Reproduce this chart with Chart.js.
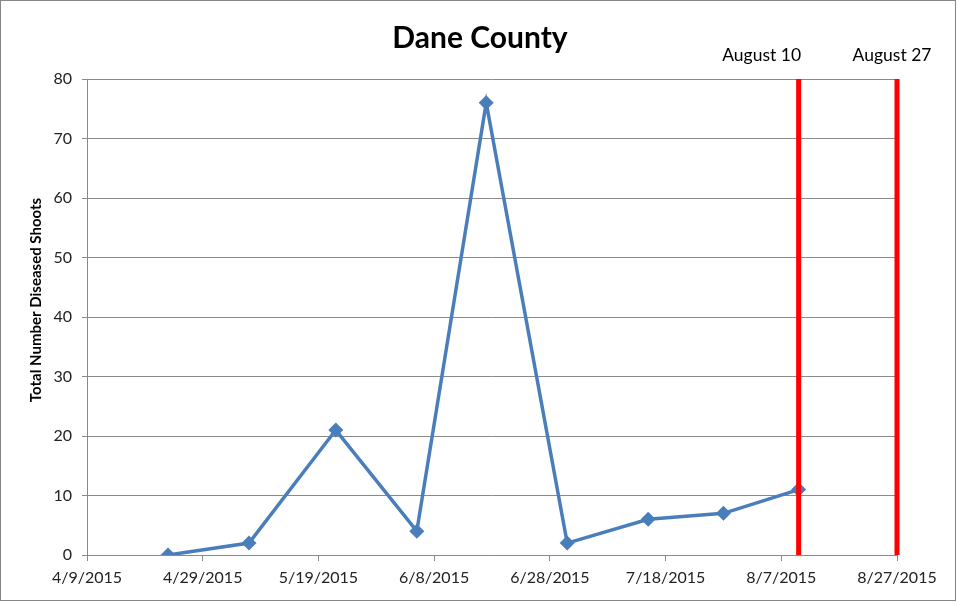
<!DOCTYPE html>
<html>
<head>
<meta charset="utf-8">
<title>Dane County</title>
<script src="https://cdn.jsdelivr.net/npm/chart.js@4.4.1/dist/chart.umd.min.js"></script>
<style>
  html, body { margin: 0; padding: 0; background: #fff; }
  #wrap { width: 957px; height: 603px; position: relative; }
</style>
</head>
<body>
<div id="wrap"><canvas id="daneChart" width="957" height="603"></canvas></div>

<script>
  // survey dates and counts
  const sampleDates = ["2015-04-23", "2015-05-07", "2015-05-22", "2015-06-05", "2015-06-17",
                       "2015-07-01", "2015-07-15", "2015-07-28", "2015-08-10"];
  const diseasedShoots = [0, 2, 21, 4, 76, 2, 6, 7, 11];

  // vertical reference lines
  const markerDates = ["2015-08-10", "2015-08-27"];
  const markerLabels = ["August 10", "August 27"];

  // axis range
  const axisStart = "2015-04-09";
  const axisEnd = "2015-08-27";
  const xStepDays = 20;
  const yMin = 0, yMax = 80, yStep = 10;

  const DAY = 86400000;
  const toUtc = (s) => { const [y, m, d] = s.split("-").map(Number); return Date.UTC(y, m - 1, d); };
  const dayOffset = (s) => Math.round((toUtc(s) - toUtc(axisStart)) / DAY);
  const dayLabel = (n) => {
    const d = new Date(toUtc(axisStart) + n * DAY);
    return (d.getUTCMonth() + 1) + "/" + d.getUTCDate() + "/" + d.getUTCFullYear();
  };

  const GRID = "#8a8a8a";
  const TEXT = "#222";
  const BLUE = "#4a7ebb";

  const markerSets = markerDates.map((d) => ({
    data: [{ x: dayOffset(d), y: yMin }, { x: dayOffset(d), y: yMax }],
    borderColor: "#ff0000",
    borderWidth: 5,
    pointRadius: 0,
    clip: false,
    order: 0,
  }));

  const textPlugin = {
    id: "textPlugin",
    afterDraw(chart) {
      const ctx = chart.ctx;
      const xs = chart.scales.x;
      ctx.save();
      // outer frame
      ctx.strokeStyle = "#868686";
      ctx.lineWidth = 1;
      ctx.strokeRect(0.5, 0.5, 955, 600);

      ctx.fillStyle = "#000";
      ctx.textAlign = "center";
      ctx.textBaseline = "middle";
      ctx.font = "bold 30px Lato";
      ctx.fillText("Dane County", 480, 38);

      ctx.font = "17.5px Lato";
      const shifts = [-37, -5];
      markerDates.forEach((d, i) => {
        ctx.fillText(markerLabels[i], xs.getPixelForValue(dayOffset(d)) + shifts[i], 55);
      });

      ctx.translate(36, 300);
      ctx.rotate(-Math.PI / 2);
      ctx.font = "bold 15px Lato";
      ctx.fillText("Total Number Diseased Shoots", 0, 0);
      ctx.restore();
    },
  };

  new Chart(document.getElementById("daneChart").getContext("2d"), {
    type: "line",
    data: {
      datasets: [
        ...markerSets,
        {
          data: sampleDates.map((d, i) => ({ x: dayOffset(d), y: diseasedShoots[i] })),
          borderColor: BLUE,
          borderWidth: 3.5,
          pointStyle: "rectRot",
          pointRadius: 7.5,
          pointBackgroundColor: BLUE,
          pointBorderColor: BLUE,
          pointBorderWidth: 0,
          tension: 0,
          order: 1,
        },
      ],
    },
    options: {
      responsive: false,
      animation: false,
      layout: { padding: { top: 79, right: 60, bottom: 0, left: 0 } },
      plugins: {
        legend: { display: false },
        tooltip: { enabled: false },
      },
      scales: {
        x: {
          type: "linear",
          min: 0,
          max: dayOffset(axisEnd),
          afterFit: (s) => { s.height = 48; },
          grid: { drawOnChartArea: false, drawTicks: true, tickLength: 6, color: GRID },
          border: { display: true, color: GRID },
          ticks: {
            stepSize: xStepDays,
            autoSkip: false,
            maxRotation: 0,
            padding: 7,
            color: TEXT,
            font: { family: "Lato", size: 16 },
            callback: (v) => dayLabel(v),
          },
        },
        y: {
          min: yMin,
          max: yMax,
          afterFit: (s) => { s.width = 87; },
          grid: { color: GRID, tickLength: 5 },
          border: { display: true, color: GRID },
          ticks: {
            stepSize: yStep,
            padding: 10,
            color: TEXT,
            font: { family: "Lato", size: 16 },
          },
        },
      },
    },
    plugins: [textPlugin],
  });
</script>
</body>
</html>
